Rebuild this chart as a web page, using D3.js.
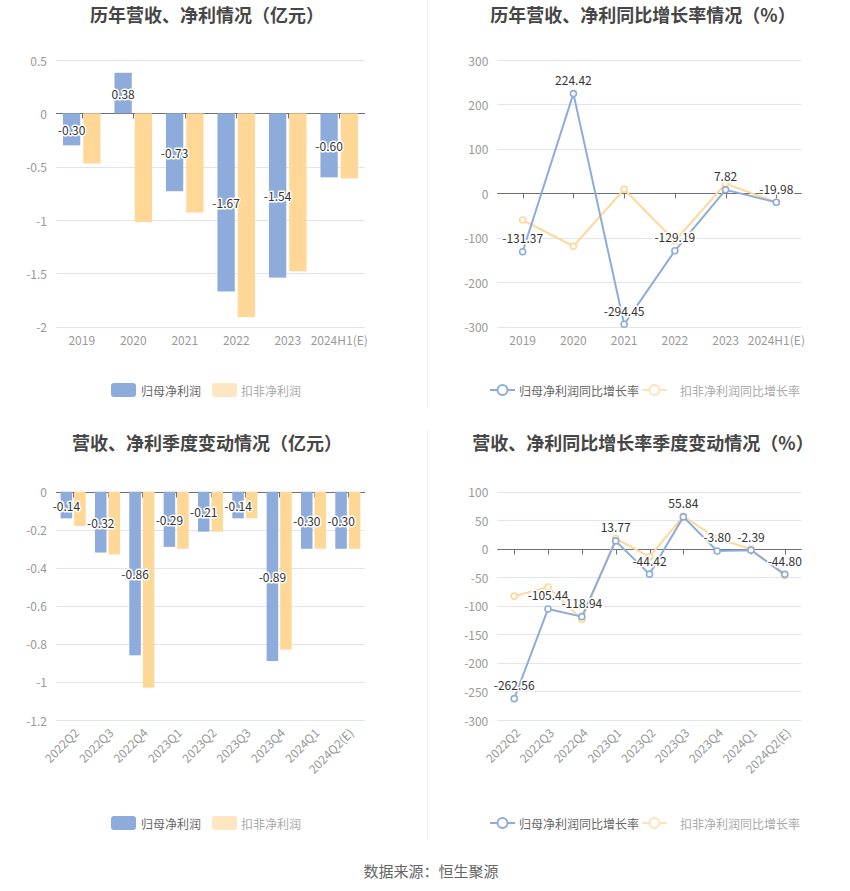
<!DOCTYPE html>
<html><head><meta charset="utf-8">
<script src="https://cdn.jsdelivr.net/npm/d3@7/dist/d3.min.js"></script>
<style>
body{margin:0;background:#fff;}
svg{display:block;font-family:"Noto Sans CJK SC","Noto Sans",sans-serif;}
</style></head><body>
<svg id="c" width="850" height="891"></svg>
<script>
// ---- data ----
const years = ["2019","2020","2021","2022","2023","2024H1(E)"];
const yearParent = [-0.30, 0.38, -0.73, -1.67, -1.54, -0.60];
const yearDeduct = [-0.47, -1.02, -0.93, -1.91, -1.48, -0.61];
const yearParentYoY = [-131.37, 224.42, -294.45, -129.19, 7.82, -19.98];
const yearDeductYoY = [-60, -119, 9, -107, 22, -20];

const quarters = ["2022Q2","2022Q3","2022Q4","2023Q1","2023Q2","2023Q3","2023Q4","2024Q1","2024Q2(E)"];
const qParent = [-0.14, -0.32, -0.86, -0.29, -0.21, -0.14, -0.89, -0.30, -0.30];
const qDeduct = [-0.18, -0.33, -1.03, -0.30, -0.21, -0.14, -0.83, -0.30, -0.30];
const qParentYoY = [-262.56, -105.44, -118.94, 13.77, -44.42, 55.84, -3.80, -2.39, -44.80];
const qDeductYoY = [-83, -67, -124, 18, -14, 57, 18, -0.5, -47];

const ticksTL = [0.5, 0, -0.5, -1, -1.5, -2];
const ticksTR = [300, 200, 100, 0, -100, -200, -300];
const ticksBL = [0, -0.2, -0.4, -0.6, -0.8, -1, -1.2];
const ticksBR = [100, 50, 0, -50, -100, -150, -200, -250, -300];

const titles = ["历年营收、净利情况（亿元）","历年营收、净利同比增长率情况（%）","营收、净利季度变动情况（亿元）","营收、净利同比增长率季度变动情况（%）"];
const barLegend = ["归母净利润","扣非净利润"];
const lineLegend = ["归母净利润同比增长率","扣非净利润同比增长率"];
const source = "数据来源：恒生聚源";

// ---- style ----
const BLUE = "#8eacdb", ORANGE = "#ffd797";
const GRID = "#e0e6f1", AXIS = "#6e7079", LABEL = "#999";
const svg = d3.select("#c");

// dividers
svg.append("line").attr("x1",427.5).attr("x2",427.5).attr("y1",0).attr("y2",408).attr("stroke","#eee");
svg.append("line").attr("x1",427.5).attr("x2",427.5).attr("y1",430).attr("y2",840).attr("stroke","#eee");

function title(t, x, y){
  svg.append("text").attr("x",x).attr("y",y).attr("text-anchor","middle")
    .attr("dominant-baseline","central").attr("font-size",18).attr("font-weight","bold")
    .attr("fill","#464646").text(t);
}
function yAxis(y, ticks, x0, x1, fmt){
  const g = svg.append("g");
  ticks.forEach(t=>{
    if (t !== 0) g.append("line").attr("x1",x0).attr("x2",x1).attr("y1",Math.round(y(t))+0.5).attr("y2",Math.round(y(t))+0.5).attr("stroke",GRID);
    g.append("text").attr("x",x0-9).attr("y",y(t)).attr("text-anchor","end").attr("dominant-baseline","central")
      .attr("font-size",12).attr("fill",LABEL).text(fmt ? fmt(t) : t);
  });
}
function zeroAxis(y, xs, x0, x1){
  const g = svg.append("g");
  const y0 = Math.round(y(0))+0.5;
  xs.forEach(cx=>g.append("line").attr("x1",cx).attr("x2",cx).attr("y1",y0).attr("y2",y0+5).attr("stroke",AXIS));
  g.append("line").attr("x1",x0).attr("x2",x1).attr("y1",y0).attr("y2",y0).attr("stroke",AXIS);
}
function xLabels(cats, xc, yb, rotate){
  cats.forEach((c,i)=>{
    if (!rotate){
      svg.append("text").attr("x",xc(i)).attr("y",yb+13).attr("text-anchor","middle").attr("dominant-baseline","central")
        .attr("font-size",12).attr("fill",LABEL).text(c);
    } else {
      svg.append("text").attr("transform",`translate(${xc(i)+3},${yb+10}) rotate(-45)`).attr("text-anchor","end")
        .attr("dominant-baseline","central").attr("font-size",12).attr("fill",LABEL).text(c);
    }
  });
}
function haloText(x, y, t){
  svg.append("text").attr("x",x).attr("y",y).attr("text-anchor","middle").attr("dominant-baseline","central")
    .attr("font-size",12).attr("fill","#333").attr("stroke","#fff").attr("stroke-width",3)
    .attr("stroke-linejoin","round").attr("paint-order","stroke").text(t);
}

function barChart(cats, s1, s2, ticks, x0, x1, yTop, yBot, rotate){
  const y = d3.scaleLinear().domain([ticks[ticks.length-1], ticks[0]]).range([yBot, yTop]);
  const x = d3.scaleBand().domain(d3.range(cats.length)).range([x0,x1]).paddingInner(0.27).paddingOuter(0.135);
  const gap = x.bandwidth()*0.08, bw = (x.bandwidth()-gap)/2;
  yAxis(y, ticks, x0, x1);
  const xc = i => x(i)+x.bandwidth()/2;
  zeroAxis(y, d3.range(cats.length).map(i=>Math.round(xc(i))+0.5), x0, x1);
  [s1,s2].forEach((s,k)=>{
    svg.append("g").selectAll("rect").data(s).join("rect")
      .attr("x",(d,i)=>x(i)+k*(bw+gap)).attr("width",bw)
      .attr("y",d=>y(Math.max(0,d))).attr("height",d=>Math.abs(y(d)-y(0)))
      .attr("fill",k?ORANGE:BLUE);
  });
  s1.forEach((d,i)=>haloText(x(i)+bw/2, (y(d)+y(0))/2, d.toFixed(2)));
  xLabels(cats, xc, yBot, rotate);
}

function lineChart(cats, s1, s2, ticks, x0, x1, yTop, yBot, rotate){
  const y = d3.scaleLinear().domain([ticks[ticks.length-1], ticks[0]]).range([yBot, yTop]);
  const x = d3.scaleBand().domain(d3.range(cats.length)).range([x0,x1]);
  const xc = i => x(i)+x.bandwidth()/2;
  yAxis(y, ticks, x0, x1);
  zeroAxis(y, d3.range(cats.length).map(i=>Math.round(xc(i))+0.5), x0, x1);
  const line = d3.line().x((d,i)=>xc(i)).y(d=>y(d));
  [s2,s1].forEach((s,k)=>{
    const col = k ? BLUE : ORANGE;
    svg.append("path").attr("d",line(s)).attr("fill","none").attr("stroke",col).attr("stroke-width",2);
    svg.append("g").selectAll("circle").data(s).join("circle")
      .attr("cx",(d,i)=>xc(i)).attr("cy",d=>y(d)).attr("r",3)
      .attr("fill","#fff").attr("stroke",col).attr("stroke-width",1.6);
  });
  s1.forEach((d,i)=>haloText(xc(i), y(d)-14, d.toFixed(2)));
  xLabels(cats, xc, yBot, rotate);
}

function barLegendDraw(y){
  svg.append("rect").attr("x",111).attr("y",y-7).attr("width",25).attr("height",14).attr("rx",3).attr("fill",BLUE);
  svg.append("text").attr("x",141).attr("y",y).attr("dominant-baseline","central").attr("font-size",12).attr("fill","#666").text(barLegend[0]);
  svg.append("rect").attr("x",212).attr("y",y-7).attr("width",25).attr("height",14).attr("rx",3).attr("fill","#ffe6c2");
  svg.append("text").attr("x",241).attr("y",y).attr("dominant-baseline","central").attr("font-size",12).attr("fill","#aaa").text(barLegend[1]);
}
function lineLegendDraw(y){
  const items = [[490,519,BLUE,"#666"],[642,680,"#ffe3b8","#aaa"]];
  items.forEach((it,k)=>{
    svg.append("line").attr("x1",it[0]).attr("x2",it[0]+25).attr("y1",y).attr("y2",y).attr("stroke",it[2]).attr("stroke-width",2);
    svg.append("circle").attr("cx",it[0]+12.5).attr("cy",y).attr("r",5).attr("fill","#fff").attr("stroke",it[2]).attr("stroke-width",2);
    svg.append("text").attr("x",it[1]).attr("y",y).attr("dominant-baseline","central").attr("font-size",12).attr("fill",it[3]).text(lineLegend[k]);
  });
}

title(titles[0], 207, 14);
title(titles[1], 643, 14);
title(titles[2], 207, 442);
title(titles[3], 643, 442);

barChart(years, yearParent, yearDeduct, ticksTL, 56, 365, 60, 326.7, false);
lineChart(years, yearParentYoY, yearDeductYoY, ticksTR, 497.3, 801.7, 60, 326.7, false);
barChart(quarters, qParent, qDeduct, ticksBL, 56, 365, 491.7, 720, true);
lineChart(quarters, qParentYoY, qDeductYoY, ticksBR, 497.3, 801.7, 491.7, 720, true);

barLegendDraw(390); lineLegendDraw(390);
barLegendDraw(823); lineLegendDraw(823);

svg.append("text").attr("x",431).attr("y",870).attr("text-anchor","middle").attr("dominant-baseline","central")
  .attr("font-size",15).attr("fill","#666").text(source);
</script></body></html>
